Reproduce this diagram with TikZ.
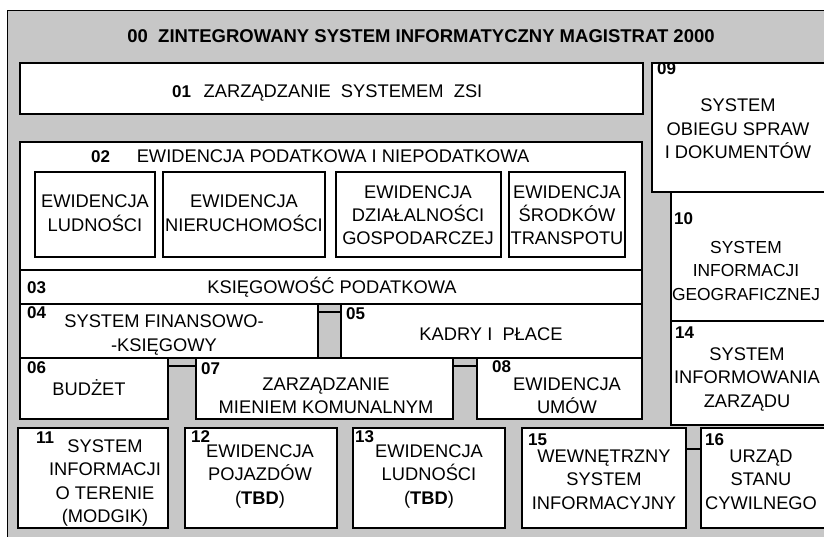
\documentclass[tikz,border=0pt]{standalone}
\usepackage{fontspec}
\setmainfont{Liberation Sans}
\usetikzlibrary{calc}
\newcommand\zbox[5]{\node[zb, minimum width={(#4)-(#2)}, minimum height={(#5)-(#3)}] (#1) at ({((#2)+(#4))/2},{((#3)+(#5))/2}) {};}
\begin{document}
\begin{tikzpicture}[x=1pt,y=-1pt,
  zb/.style={draw=black, line width=1.2pt, fill=white, inner sep=0pt, outer sep=0pt},
  txt/.style={font=\fontsize{18.3}{23.5}\selectfont, align=center, anchor=base, inner sep=0pt},
  num/.style={font=\fontsize{17}{19}\selectfont\bfseries, anchor=base west, inner sep=0pt},
  ttl/.style={font=\fontsize{18.5}{22}\selectfont\bfseries, anchor=base, inner sep=0pt},
  bgfill/.style={fill=black!22},
  conn/.style={draw=black, line width=1.2pt}]
\useasboundingbox (0,0) rectangle (824,537);
\fill[white] (0,0) rectangle (824,537);
\node[draw=black, line width=1.2pt, bgfill, inner sep=0pt, minimum width=823, minimum height=535, anchor=north west] (b00) at (7,10) {};
% boxes
\zbox{b01}{20}{63}{643}{114}
\zbox{b09}{652}{63}{828}{192}
\zbox{b02}{20}{142}{642}{270}
\zbox{s1}{35}{172}{155}{257}
\zbox{s2}{163}{172}{325}{257}
\zbox{s3}{336}{172}{501}{257}
\zbox{s4}{509}{172}{625}{257}
\zbox{b10}{671}{192}{828}{321}
\zbox{b03}{20}{270}{642}{304}
\zbox{b04}{20}{304}{318}{358}
\zbox{b05}{341}{304}{642}{358}
\zbox{b14}{671}{321}{828}{425}
\zbox{b06}{20}{358}{168}{419}
\zbox{b07}{196}{358}{453}{419}
\zbox{b08}{477}{358}{642}{419}
\zbox{b11}{18}{428}{168}{528}
\zbox{b12}{185}{428}{337}{528}
\zbox{b13}{353}{428}{505}{528}
\zbox{b15}{522}{428}{686}{528}
\zbox{b16}{701}{428}{828}{528}
% connectors
\draw[conn] ($(b04.north east)+(0,8)$) -- ($(b05.north west)+(0,8)$);
\draw[conn] ($(b06.north east)+(0,8)$) -- ($(b07.north west)+(0,8)$);
\draw[conn] ($(b07.north east)+(0,8)$) -- ($(b08.north west)+(0,8)$);
\draw[conn] ($(b15.north east)+(0,21)$) -- ($(b16.north west)+(0,21)$);
% texts (multi-line nodes are anchored at the baseline of their last line)
\node[ttl] (t00) at (421,43) {00\ \ ZINTEGROWANY SYSTEM INFORMATYCZNY MAGISTRAT 2000};
\node[num] (n01) at (172,98) {01};
\node[txt] (t01) at (343,98) {ZARZĄDZANIE\ \ SYSTEMEM\ \ ZSI};
\node[num] (n09) at (657,75) {09};
\node[txt] (t09) at (738,159) {SYSTEM\\OBIEGU SPRAW\\I DOKUMENTÓW};
\node[num] (n02) at (91,163) {02};
\node[txt] (t02) at (333,163) {EWIDENCJA PODATKOWA I NIEPODATKOWA};
\node[txt] (ts1) at (95,231.5) {EWIDENCJA\\LUDNOŚCI};
\node[txt] (ts2) at (244,231.5) {EWIDENCJA\\NIERUCHOMOŚCI};
\node[txt] (ts3) at (418,245) {EWIDENCJA\\DZIAŁALNOŚCI\\GOSPODARCZEJ};
\node[txt] (ts4) at (567,245) {EWIDENCJA\\ŚRODKÓW\\TRANSPOTU};
\node[num] (n10) at (674,225) {10};
\node[txt, font=\fontsize{17.4}{23.5}\selectfont] (t10) at (746,300) {SYSTEM\\INFORMACJI\\GEOGRAFICZNEJ};
\node[num] (n03) at (27,293) {03};
\node[txt] (t03) at (332,293) {KSIĘGOWOŚĆ PODATKOWA};
\node[num] (n04) at (27,318) {04};
\node[txt] (t04) at (164,351) {SYSTEM FINANSOWO-\\-KSIĘGOWY};
\node[num] (n05) at (346,319) {05};
\node[txt] (t05) at (491,340) {KADRY I\ \ PŁACE};
\node[num] (n14) at (675,338) {14};
\node[txt] (t14) at (747,407) {SYSTEM\\INFORMOWANIA\\ZARZĄDU};
\node[num] (n06) at (27,373) {06};
\node[txt] (t06) at (89,395) {BUDŻET};
\node[num] (n07) at (201,374) {07};
\node[txt] (t07) at (326,413.5) {ZARZĄDZANIE\\MIENIEM KOMUNALNYM};
\node[num] (n08) at (492,372) {08};
\node[txt] (t08) at (567,413.5) {EWIDENCJA\\UMÓW};
\node[num] (n11) at (36,443) {11};
\node[txt] (t11) at (105,522.5) {SYSTEM\\INFORMACJI\\O TERENIE\\(MODGIK)};
\node[num] (n12) at (191,442) {12};
\node[txt] (t12) at (260,504) {EWIDENCJA\\POJAZDÓW\\(\textbf{TBD})};
\node[num] (n13) at (355,442) {13};
\node[txt] (t13) at (429,504) {EWIDENCJA\\LUDNOŚCI\\(\textbf{TBD})};
\node[num] (n15) at (528,445) {15};
\node[txt] (t15) at (604,509) {WEWNĘTRZNY\\SYSTEM\\INFORMACYJNY};
\node[num] (n16) at (705,445) {16};
\node[txt] (t16) at (761,509) {URZĄD\\STANU\\CYWILNEGO};
\end{tikzpicture}
\end{document}
